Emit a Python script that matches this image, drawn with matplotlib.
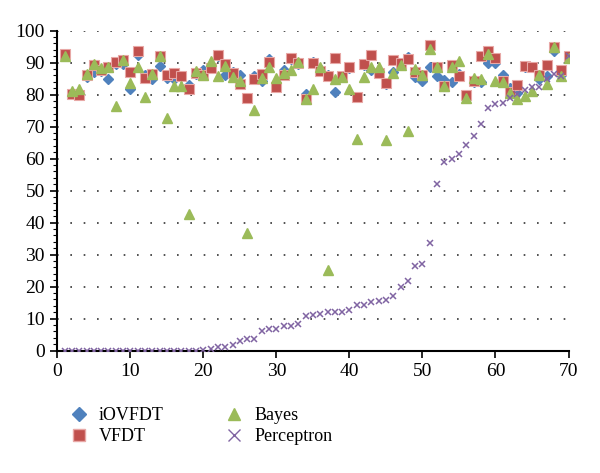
import matplotlib
matplotlib.use('Agg')
import matplotlib.pyplot as plt
from matplotlib.ticker import MultipleLocator
from matplotlib.lines import Line2D
import numpy as np

matplotlib.rcParams['font.family'] = ['Liberation Serif', 'DejaVu Serif']
matplotlib.rcParams['font.size'] = 14

# data sets 1..70
x = np.arange(1, 71)

iovfdt = [92.5, 80.3, 80.5, 85.4, 87.0, 87.4, 84.8, 89.7, 89.6, 81.8,
          92.3, 86.2, 84.9, 88.9, 85.2, 85.0, 85.6, 83.1, 86.5, 87.6,
          88.7, 92.0, 86.0, 87.0, 86.0, 79.0, 85.7, 84.2, 91.0, 82.5,
          87.7, 91.0, 89.5, 80.3, 90.3, 88.0, 86.0, 80.8, 85.5, 88.3,
          79.3, 89.3, 87.6, 87.0, 83.4, 87.0, 89.5, 91.8, 85.6, 84.2,
          88.8, 85.7, 84.6, 83.9, 86.6, 79.5, 84.1, 84.0, 90.0, 90.0,
          86.2, 82.2, 80.5, 88.5, 88.5, 85.0, 85.7, 93.8, 86.3, 92.1]

vfdt = [92.7, 80.2, 79.9, 86.2, 89.2, 87.6, 88.6, 90.3, 90.9, 87.1,
        93.8, 85.3, 86.4, 92.0, 86.3, 86.8, 85.9, 81.8, 86.7, 86.2,
        88.4, 92.3, 89.7, 86.7, 83.3, 79.0, 84.8, 86.6, 90.3, 82.3,
        86.1, 91.5, 90.0, 78.7, 89.8, 87.5, 85.9, 91.4, 85.8, 88.8,
        79.3, 89.5, 92.4, 86.8, 83.8, 90.7, 89.9, 91.1, 87.2, 86.0,
        95.6, 88.7, 82.6, 89.3, 85.7, 79.8, 84.4, 92.2, 93.5, 91.6,
        84.3, 80.7, 83.1, 89.1, 88.8, 86.2, 89.3, 95.0, 87.7, 92.1]

bayes = [92.1, 81.2, 81.8, 86.6, 89.6, 88.3, 88.5, 76.5, 90.8, 83.8,
         88.5, 79.2, 86.5, 92.0, 72.7, 82.6, 82.8, 42.6, 87.4, 86.2,
         90.6, 85.7, 89.1, 85.4, 84.3, 36.8, 75.3, 85.2, 88.6, 85.2,
         86.7, 87.6, 90.2, 78.5, 81.8, 88.5, 25.3, 84.9, 85.4, 81.9,
         66.0, 85.6, 88.5, 88.6, 65.8, 86.7, 89.3, 68.6, 88.1, 86.2,
         94.4, 88.7, 82.6, 88.8, 90.6, 78.9, 85.2, 85.0, 92.6, 84.4,
         84.0, 80.5, 78.5, 79.5, 81.3, 86.2, 83.3, 95.0, 85.7, 91.5]

perceptron = [0, 0, 0, 0, 0, 0, 0, 0, 0, 0,
              0, 0, 0, 0, 0, 0, 0, 0, 0, 0.3,
              0.6, 1.0, 1.2, 1.9, 3.1, 3.5, 3.8, 6.3, 6.8, 6.9,
              7.7, 7.8, 8.2, 10.7, 11.3, 11.6, 12.0, 12.1, 12.2, 12.6,
              14.3, 14.4, 15.2, 15.6, 15.7, 17.2, 20.0, 21.9, 26.5, 27.2,
              33.7, 52.0, 59.1, 59.8, 61.6, 64.3, 67.2, 70.7, 75.7, 77.0,
              77.3, 78.9, 80.2, 81.5, 82.3, 82.5, 84.8, 86.4, 85.8, 92.1]

c_blue = '#4F81BD'
c_red = '#C0504D'
c_green = '#9BBB59'
c_purple = '#8064A2'

fig = plt.figure(figsize=(6.0, 4.73), dpi=100)
ax = fig.add_axes([0.0955, 0.2586, 0.852, 0.6765])

ax.plot(x, iovfdt, ls='none', marker='D', ms=5.5, mfc=c_blue, mec=c_blue, zorder=3)
ax.plot(x, vfdt, ls='none', marker='s', ms=6.5, mfc=c_red, mec='#E8A8A6', mew=0.8, zorder=4)
ax.plot(x, bayes, ls='none', marker='^', ms=7, mfc=c_green, mec=c_green, zorder=5)
ax.plot(x, perceptron, ls='none', marker='x', ms=5, mec=c_purple, mew=1.1, zorder=6)

ax.set_xlim(0, 70)
ax.set_ylim(0, 100)
ax.xaxis.set_major_locator(MultipleLocator(10))
ax.yaxis.set_major_locator(MultipleLocator(10))
ax.yaxis.set_minor_locator(MultipleLocator(2))

# dotted horizontal gridlines
for yv in range(10, 101, 10):
    ax.axhline(yv, color='#333333', lw=1.2, ls=(0, (1, 7)), zorder=1)

for side in ['top', 'right']:
    ax.spines[side].set_visible(False)
for side in ['left', 'bottom']:
    ax.spines[side].set_linewidth(1.5)
ax.tick_params(axis='both', which='major', direction='out', length=5, width=1.2, pad=4)
ax.tick_params(axis='y', which='minor', direction='out', length=3, width=0.8)
ax.tick_params(axis='x', which='minor', bottom=False)

handles = [
    Line2D([], [], ls='none', marker='D', ms=7, mfc=c_blue, mec=c_blue),
    Line2D([], [], ls='none', marker='s', ms=8, mfc=c_red, mec='#E8A8A6'),
    Line2D([], [], ls='none', marker='^', ms=9, mfc=c_green, mec=c_green),
    Line2D([], [], ls='none', marker='x', ms=8, mec=c_purple, mew=1.0),
]
labels = ['iOVFDT', 'VFDT', 'Bayes', 'Perceptron']
fig.legend(handles, labels, loc='upper left', bbox_to_anchor=(0.105, 0.155),
           ncol=2, frameon=False, fontsize=13, handlelength=1.0,
           handletextpad=0.6, columnspacing=3.4, labelspacing=0.25,
           borderaxespad=0)

fig.savefig('out.png', dpi=100)
